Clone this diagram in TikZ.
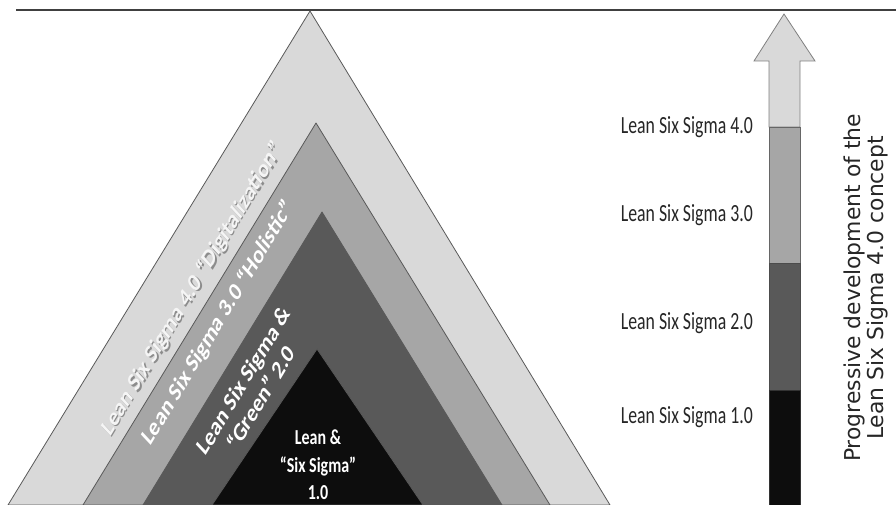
\documentclass[tikz,border=0pt]{standalone}
\usepackage{fontspec}
\setmainfont{Carlito}
\newfontfamily\vertfont{DejaVu Sans}
\usetikzlibrary{positioning}

\definecolor{tone1}{HTML}{D9D9D9}
\definecolor{tone2}{HTML}{A6A6A6}
\definecolor{tone3}{HTML}{595959}
\definecolor{tone4}{HTML}{0D0D0D}
\definecolor{edge}{HTML}{595959}
\definecolor{ink}{HTML}{262626}

\begin{document}
\begin{tikzpicture}[x=0.75pt, y=-0.75pt,
  tri/.style={draw=edge, line width=0.6pt, line join=round},
  side/.style={text=white, font=\bfseries\fontsize{19.5}{22}\selectfont, inner sep=0pt, align=center, xscale=0.75, rotate=51.3},
  sideshadow/.style={side, text=black!45},
  level/.style={text=ink, font=\fontsize{18.5}{21}\selectfont, inner sep=0pt, anchor=east, xscale=0.72}]

\useasboundingbox (0,0) rectangle (896,505);

\draw[line width=0.8pt, draw=black!75] (16,10) -- (896,10);

% the four triangles
\draw[tri, fill=tone1] (310,11) -- (8,505) -- (610,505) -- cycle;
\draw[tri, fill=tone2] (316,123) -- (83,505) -- (550,505) -- cycle;
\draw[tri, fill=tone3] (322,212) -- (143,505) -- (502,505) -- cycle;
\draw[tri, fill=tone4] (317,349) -- (212,505) -- (423,505) -- cycle;

\node[sideshadow] (s4) at (193.5,290.5) {Lean Six Sigma 4.0 “Digitalization”};
\node[side, text=white!96!black] (l4) at (192,289) {Lean Six Sigma 4.0 “Digitalization”};
\node[side] (l3) at (218,323) {Lean Six Sigma 3.0 “Holistic”};
\node[side] (l2) at (252,389) {Lean Six Sigma \&\\“Green” 2.0};

\node[text=white, font=\bfseries\fontsize{16}{20.6}\selectfont, align=center, inner sep=0pt, xscale=0.75] (l1) at (318,465) {Lean \&\\“Six Sigma”\\1.0};

% arrow
\draw[line width=0.6pt, draw=black!50, fill=tone1] (769,127) -- (769,61) -- (754,61) -- (784,14) -- (815,61) -- (800,61) -- (800,127) -- cycle;
\draw[line width=0.6pt, draw=black!60, fill=tone2] (769,127) rectangle (800,263);
\draw[line width=0.6pt, draw=black!70, fill=tone3] (769,263) rectangle (800,390);
\draw[line width=0.6pt, draw=black!80, fill=tone4] (769,390) rectangle (800,505);

\node[level] (v4) at (753,127) {Lean Six Sigma 4.0};
\node[level] (v3) at (753,215) {Lean Six Sigma 3.0};
\node[level] (v2) at (753,323) {Lean Six Sigma 2.0};
\node[level] (v1) at (753,417) {Lean Six Sigma 1.0};

\node[text=ink, font=\vertfont\fontsize{16.4}{17.5}\selectfont, align=center, inner sep=0pt, rotate=90] (dev) at (866,288) {Progressive development of the\\Lean Six Sigma 4.0 concept};
\end{tikzpicture}
\end{document}
